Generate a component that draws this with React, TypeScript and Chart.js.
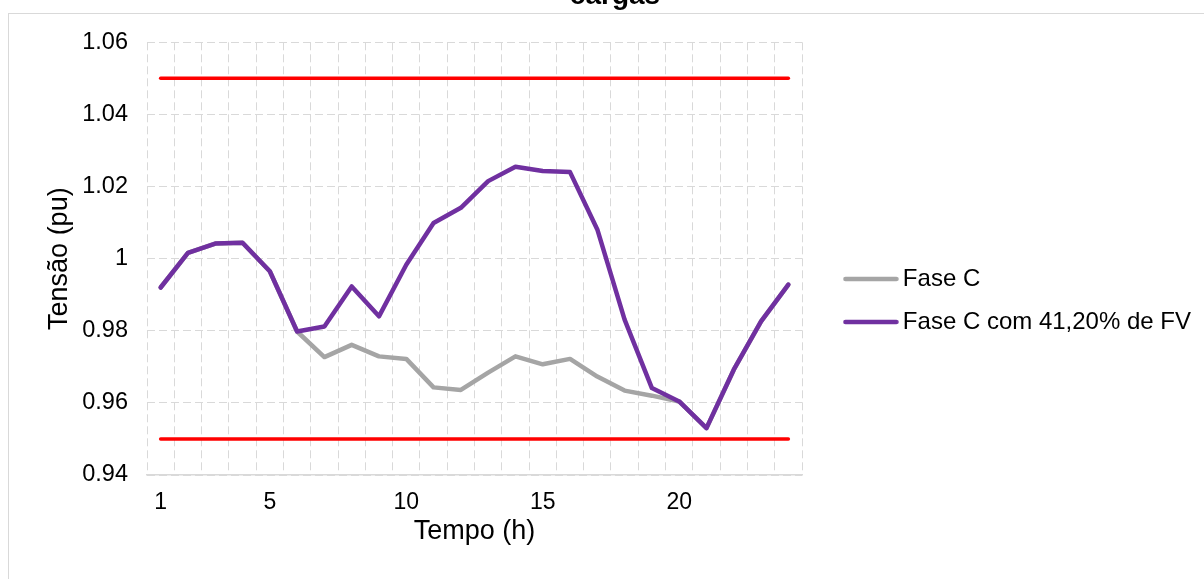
import React, { useEffect, useRef } from 'react';
import { Chart, registerables } from 'chart.js';

Chart.register(...registerables);

// ---- data ----
const horas = ['1', '2', '3', '4', '5', '6', '7', '8', '9', '10', '11', '12', '13', '14', '15', '16', '17', '18', '19', '20', '21', '22', '23', '24'];
const rotulosX = ['1', '5', '10', '15', '20'];
const ticksY = [0.94, 0.96, 0.98, 1.0, 1.02, 1.04, 1.06];

const faseC = [0.992, 1.0016, 1.0042, 1.0044, 0.9965, 0.9798, 0.9727, 0.9761, 0.9729, 0.9722, 0.9643, 0.9636, 0.9684, 0.9729, 0.9707, 0.9722, 0.9673, 0.9634, 0.962, 0.9604, 0.953, 0.9692, 0.9826, 0.9928];
const faseCFV = [0.992, 1.0016, 1.0042, 1.0044, 0.9965, 0.9798, 0.9812, 0.9923, 0.984, 0.9983, 1.0099, 1.0141, 1.0215, 1.0255, 1.0243, 1.024, 1.0081, 0.9831, 0.9641, 0.9604, 0.953, 0.9692, 0.9826, 0.9928];
const limiteSuperior = [1.05, 1.05, 1.05, 1.05, 1.05, 1.05, 1.05, 1.05, 1.05, 1.05, 1.05, 1.05, 1.05, 1.05, 1.05, 1.05, 1.05, 1.05, 1.05, 1.05, 1.05, 1.05, 1.05, 1.05];
const limiteInferior = [0.95, 0.95, 0.95, 0.95, 0.95, 0.95, 0.95, 0.95, 0.95, 0.95, 0.95, 0.95, 0.95, 0.95, 0.95, 0.95, 0.95, 0.95, 0.95, 0.95, 0.95, 0.95, 0.95, 0.95];

const FONT = "'Liberation Sans', Arial, sans-serif";
const SHIFT = 21;
const W = 1204;
const H = 643;
const PAD_LEFT = 29;
const PAD_RIGHT = 3;
const PLOT_RIGHT = 802;

function legendLine(color: string) {
  const c = document.createElement('canvas');
  c.width = 56;
  c.height = 8;
  const ctx = c.getContext('2d')!;
  ctx.strokeStyle = color;
  ctx.lineWidth = 4.5;
  ctx.lineCap = 'round';
  ctx.beginPath();
  ctx.moveTo(2.5, 4);
  ctx.lineTo(53.5, 4);
  ctx.stroke();
  return c;
}

export default function App() {
  const ref = useRef<HTMLCanvasElement | null>(null);

  useEffect(() => {
    if (!ref.current) return;
    const chart = new Chart(ref.current, {
      type: 'line',
      data: {
        labels: horas,
        datasets: [
          {
            label: 'Fase C',
            data: faseC,
            borderColor: '#A5A5A5',
            backgroundColor: '#A5A5A5',
            borderWidth: 4.5,
            pointRadius: 0,
            pointHoverRadius: 0,
            pointStyle: legendLine('#A5A5A5') as any,
            borderCapStyle: 'round',
            borderJoinStyle: 'round',
            tension: 0,
            order: 2,
          },
          {
            label: 'Fase C com 41,20% de FV',
            data: faseCFV,
            borderColor: '#7030A0',
            backgroundColor: '#7030A0',
            borderWidth: 4.5,
            pointRadius: 0,
            pointHoverRadius: 0,
            pointStyle: legendLine('#7030A0') as any,
            borderCapStyle: 'round',
            borderJoinStyle: 'round',
            tension: 0,
            order: 1,
          },
          {
            label: 'Limite superior',
            data: limiteSuperior,
            borderColor: '#FF0000',
            backgroundColor: '#FF0000',
            borderWidth: 3.5,
            pointRadius: 0,
            borderCapStyle: 'round',
            order: 3,
          },
          {
            label: 'Limite inferior',
            data: limiteInferior,
            borderColor: '#FF0000',
            backgroundColor: '#FF0000',
            borderWidth: 3.5,
            pointRadius: 0,
            borderCapStyle: 'round',
            order: 4,
          },
        ],
      },
      options: {
        responsive: false,
        maintainAspectRatio: false,
        animation: false,
        layout: { padding: { left: PAD_LEFT, right: PAD_RIGHT, top: 0, bottom: 0 } },
        plugins: {
          title: {
            display: true,
            text: 'cargas',
            color: '#000',
            font: { family: FONT, size: 28, weight: 'bold' },
            padding: { top: 0, bottom: 29.7 },
          },
          legend: {
            position: 'right',
            align: 'center',
            maxWidth: 600,
            labels: {
              usePointStyle: true,
              pointStyleWidth: 40,
              padding: 19,
              color: '#000',
              font: { family: FONT, size: 24 },
              filter: (item: any) => item.datasetIndex < 2,
              sort: (a: any, b: any) => a.datasetIndex - b.datasetIndex,
            },
          },
          tooltip: { enabled: false },
        },
        scales: {
          x: {
            type: 'category',
            offset: true,
            grid: { offset: true, color: '#D9D9D9', lineWidth: 1, drawTicks: false },
            border: { display: true, color: '#D9D9D9', width: 1.5, dash: [8, 4] },
            ticks: {
              autoSkip: false,
              maxRotation: 0,
              minRotation: 0,
              padding: 14,
              color: '#000',
              font: { family: FONT, size: 23 },
              callback: (_v: any, i: number) => (rotulosX.includes(horas[i]) ? horas[i] : ''),
            },
            title: {
              display: true,
              text: 'Tempo (h)',
              color: '#000',
              font: { family: FONT, size: 27 },
              padding: { top: 0, bottom: 73.8 },
            },
            afterFit: (s: any) => {
              s.height = H - (475 + SHIFT);
            },
          },
          y: {
            min: 0.94,
            max: 1.06,
            afterBuildTicks: (s: any) => {
              s.ticks = ticksY.map((v) => ({ value: v }));
            },
            grid: { color: '#D9D9D9', lineWidth: 1, drawTicks: false },
            border: { display: false, dash: [8, 4] },
            ticks: {
              padding: 19,
              color: '#000',
              font: { family: FONT, size: 23.5 },
              callback: (v: any) => String(Number(Number(v).toFixed(2))),
            },
            title: {
              display: true,
              text: 'Tensão (pu)',
              color: '#000',
              font: { family: FONT, size: 27 },
              padding: { top: 14.3, bottom: 0 },
            },
            afterFit: (s: any) => {
              s.width = 147 - PAD_LEFT;
            },
          },
          yRight: {
            type: 'linear',
            position: 'right',
            display: true,
            grid: { display: false, drawTicks: false },
            border: { display: false },
            ticks: { display: false },
            afterFit: (s: any) => {
              const lw = s.chart.legend ? s.chart.legend.width : 369;
              s.width = Math.max(0, W - PAD_RIGHT - lw - PLOT_RIGHT);
            },
          },
        },
      } as any,
    });
    return () => chart.destroy();
  }, []);

  return (
    <div
      style={{
        position: 'fixed',
        left: 0,
        top: 0,
        width: W,
        height: 579,
        overflow: 'hidden',
        background: '#fff',
      }}
    >
      <div
        style={{
          position: 'absolute',
          left: 8,
          top: 13,
          width: 1300,
          height: 700,
          border: '1px solid #D9D9D9',
          boxSizing: 'border-box',
        }}
      />
      <canvas
        ref={ref}
        width={W}
        height={H}
        style={{ position: 'absolute', left: 0, top: -SHIFT, width: W, height: H }}
      />
    </div>
  );
}
